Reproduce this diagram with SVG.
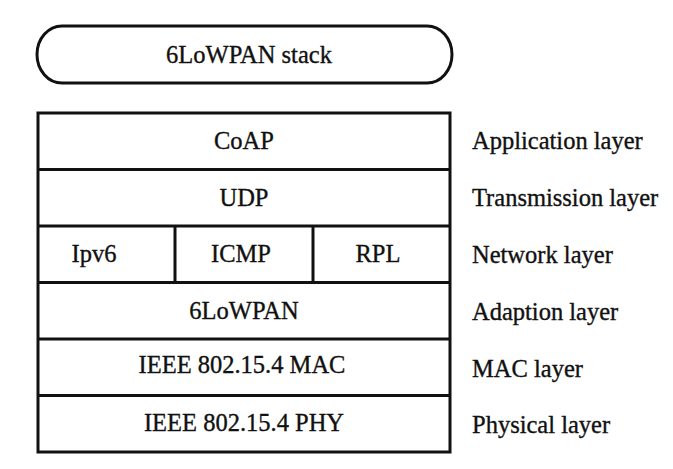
<svg xmlns="http://www.w3.org/2000/svg" width="673" height="469" viewBox="0 0 673 469">
  <style>
    .bg { fill: #ffffff; }
    .box { fill: #ffffff; stroke: #111111; stroke-width: 3; }
    .line { stroke: #111111; stroke-width: 3; fill: none; }
    .t { font-family: "Liberation Serif", "Times New Roman", serif; font-size: 24.5px; fill: #111111; stroke: #111111; stroke-width: 0.35; }
    .c { text-anchor: middle; }
  </style>
  <rect class="bg" x="0" y="0" width="673" height="469"/>

  <!-- title pill -->
  <g id="stack-title">
    <rect class="box" x="37" y="26" width="415" height="57" rx="25" ry="28.5"/>
    <text class="t c" x="249" y="63">6LoWPAN stack</text>
  </g>

  <!-- protocol stack -->
  <g id="stack-frame">
    <rect class="box" x="38" y="113" width="412" height="339"/>
  </g>
  <g id="connectors">
    <line class="line" x1="38" y1="169.5" x2="450" y2="169.5"/>
    <line class="line" x1="38" y1="226" x2="450" y2="226"/>
    <line class="line" x1="38" y1="282.5" x2="450" y2="282.5"/>
    <line class="line" x1="38" y1="339" x2="450" y2="339"/>
    <line class="line" x1="38" y1="395.5" x2="450" y2="395.5"/>
    <line class="line" x1="175" y1="226" x2="175" y2="282.5"/>
    <line class="line" x1="313" y1="226" x2="313" y2="282.5"/>
  </g>

  <g id="coap"><text class="t c" x="244" y="149">CoAP</text></g>
  <g id="udp"><text class="t c" x="244" y="206">UDP</text></g>
  <g id="ipv6"><text class="t c" x="94" y="262">Ipv6</text></g>
  <g id="icmp"><text class="t c" x="241" y="262">ICMP</text></g>
  <g id="rpl"><text class="t c" x="378" y="262">RPL</text></g>
  <g id="lowpan"><text class="t c" x="244" y="319">6LoWPAN</text></g>
  <g id="mac"><text class="t c" x="242" y="373">IEEE 802.15.4 MAC</text></g>
  <g id="phy"><text class="t c" x="244" y="431">IEEE 802.15.4 PHY</text></g>

  <!-- layer names -->
  <g id="layer-labels">
    <text class="t" x="472" y="149">Application layer</text>
    <text class="t" x="472" y="206">Transmission layer</text>
    <text class="t" x="472" y="263">Network layer</text>
    <text class="t" x="472" y="320">Adaption layer</text>
    <text class="t" x="472" y="377">MAC layer</text>
    <text class="t" x="472" y="433">Physical layer</text>
  </g>
</svg>
